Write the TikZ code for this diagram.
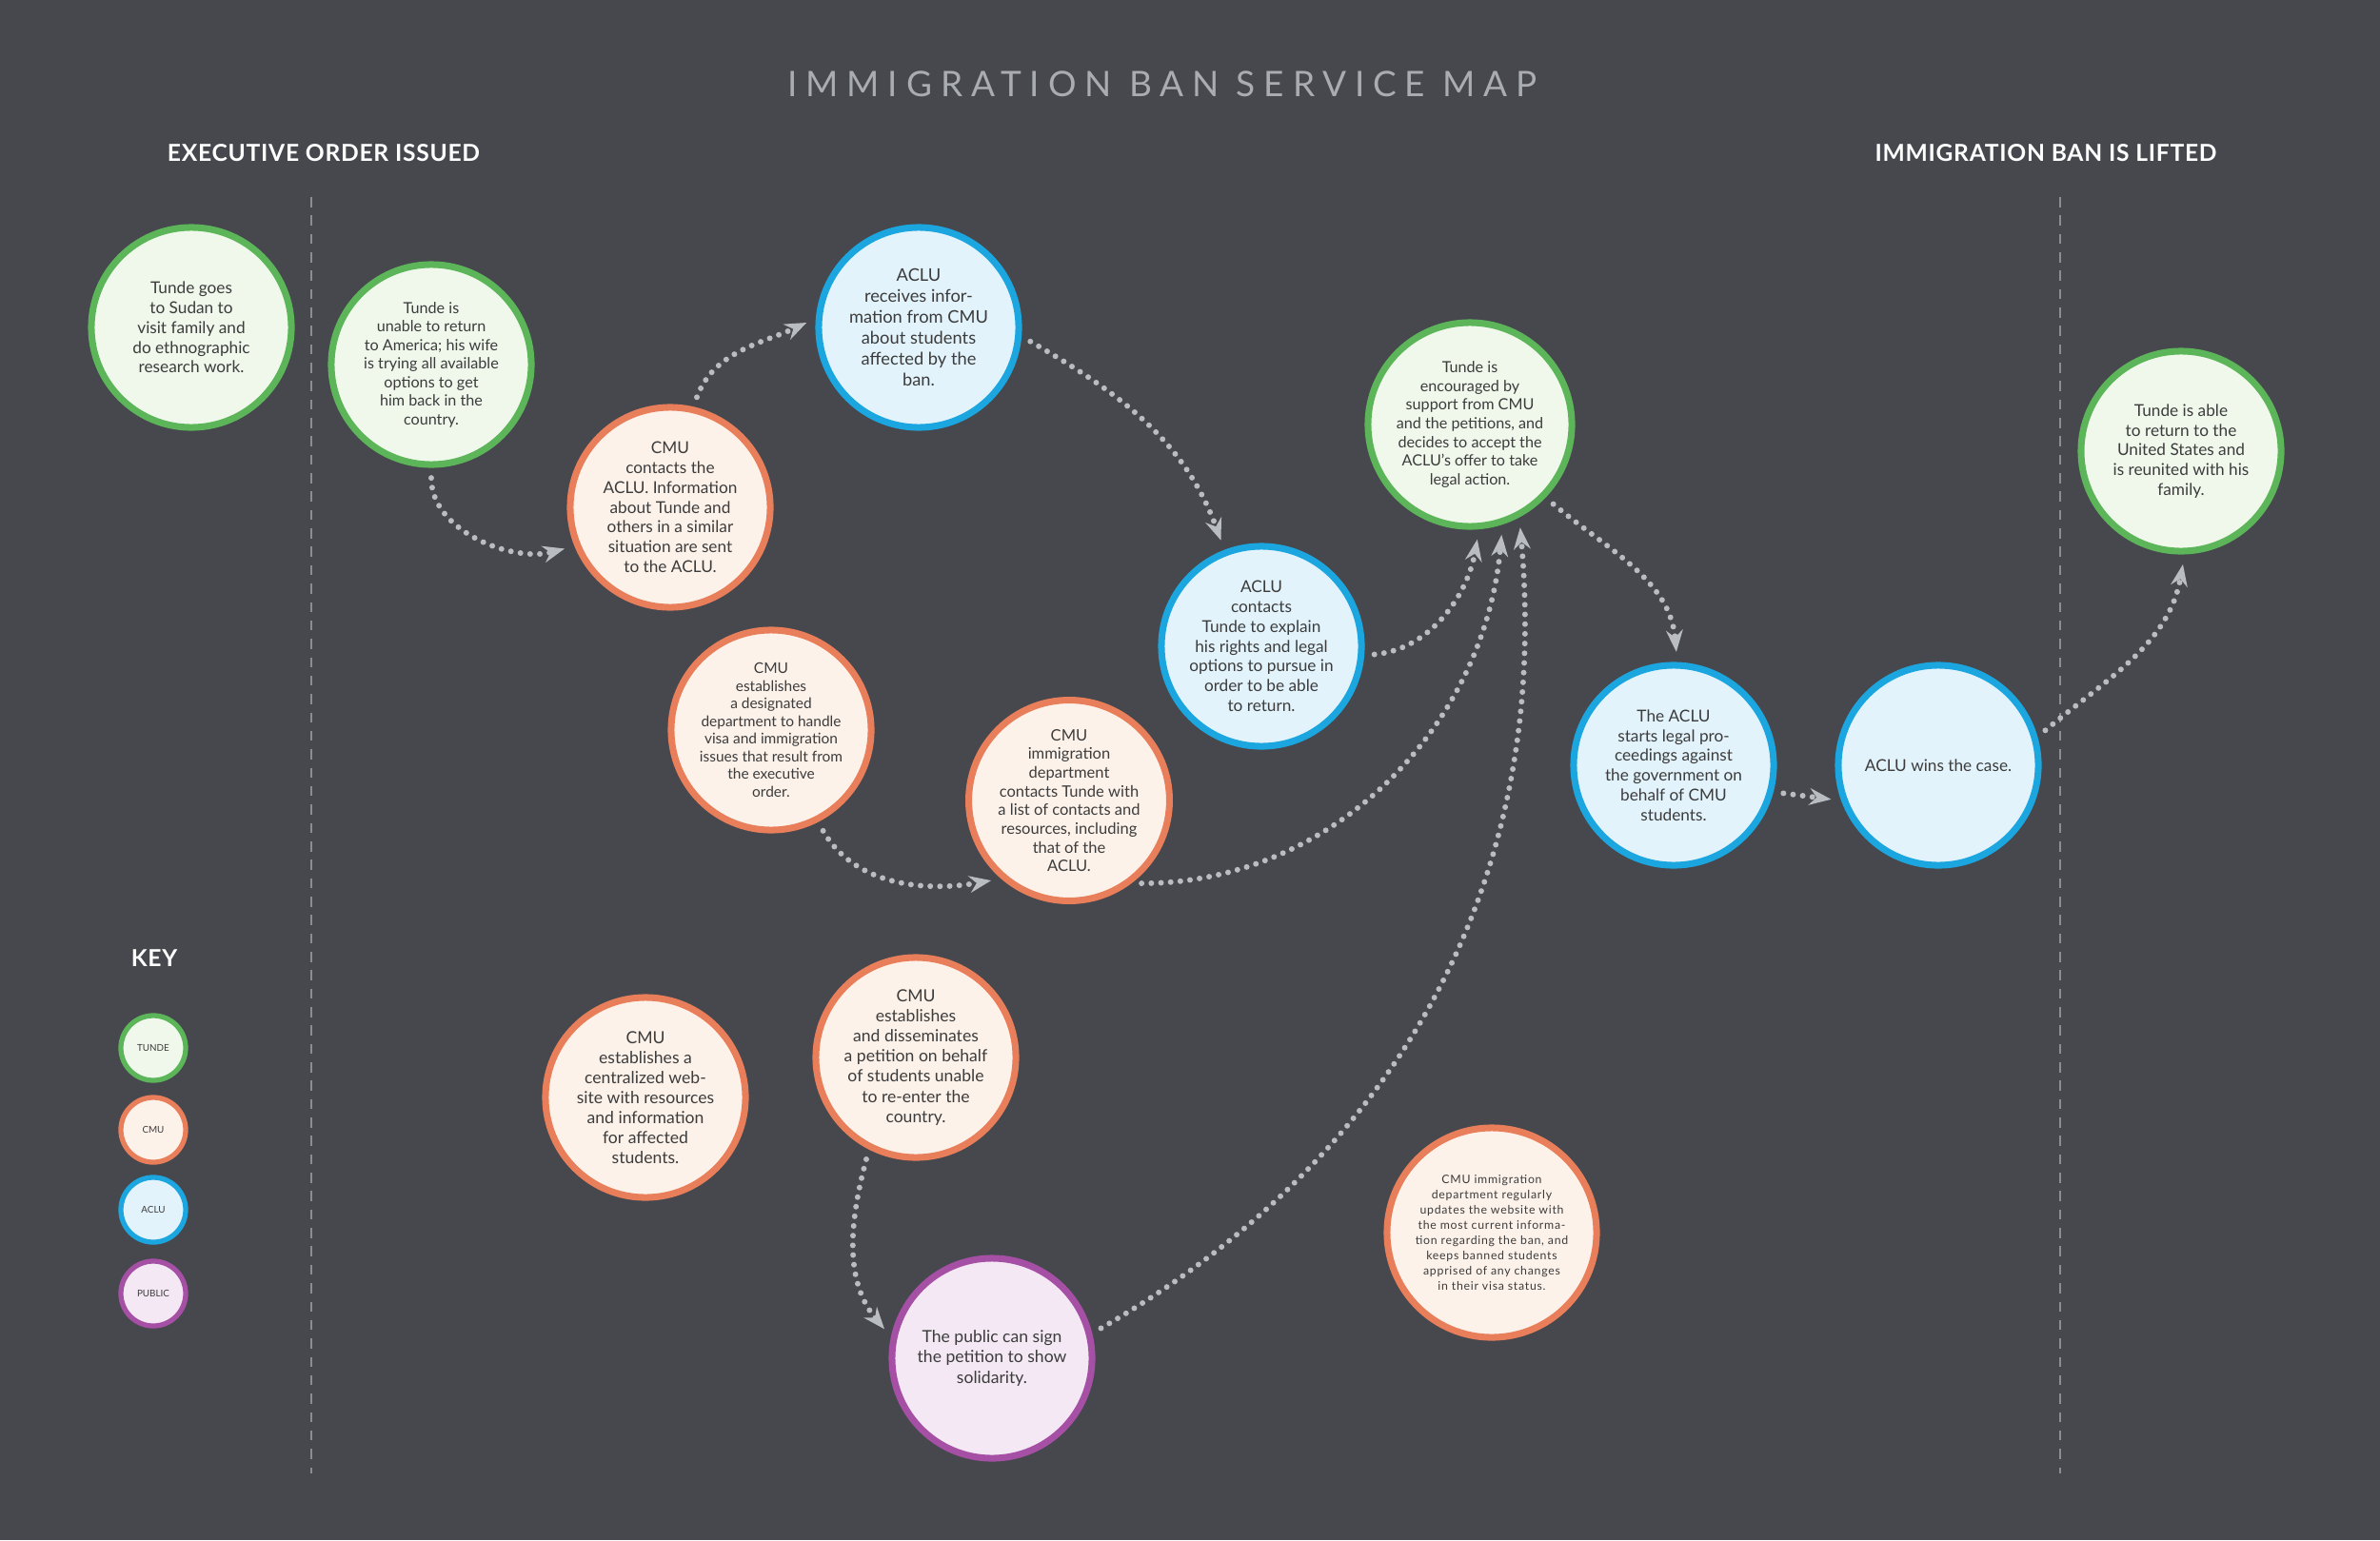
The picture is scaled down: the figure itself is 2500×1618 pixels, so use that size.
\documentclass[tikz,border=0pt]{standalone}
\usepackage{fontspec}
\setmainfont{Lato}
\usetikzlibrary{arrows.meta}
\definecolor{bg}{HTML}{46484D}
\definecolor{ink}{HTML}{3C3C3C}
\definecolor{dots}{HTML}{B9BCC0}
\definecolor{sepline}{HTML}{8B8D91}
\definecolor{titlegrey}{HTML}{A9ACB0}
\definecolor{tundeline}{HTML}{5DB55A}
\definecolor{tundefill}{HTML}{F0F8EC}
\definecolor{cmuline}{HTML}{E87E5A}
\definecolor{cmufill}{HTML}{FDF2EA}
\definecolor{acluline}{HTML}{1CA6E0}
\definecolor{aclufill}{HTML}{E2F3FB}
\definecolor{publine}{HTML}{A54FA5}
\definecolor{pubfill}{HTML}{F3E8F3}
\begin{document}
\begin{tikzpicture}
  [x=0.01cm,y=-0.01cm,
   every circle node/.style={draw,inner sep=0pt,align=center,text=ink},
   tunde/.style={circle,draw=tundeline,fill=tundefill,minimum size=2.1cm,line width=2pt},
   cmu/.style={circle,draw=cmuline,fill=cmufill,minimum size=2.1cm,line width=2pt},
   aclu/.style={circle,draw=acluline,fill=aclufill,minimum size=2.1cm,line width=2pt},
   public/.style={circle,draw=publine,fill=pubfill,minimum size=2.1cm,line width=2pt},
   keydot/.style={minimum size=0.68cm,line width=1.5pt,font=\fontsize{2.8}{3}\selectfont},
   fs/.style 2 args={font=\fontsize{#1}{#2}\selectfont},
   head/.style={text=white,font=\bfseries\fontsize{7}{8}\selectfont\addfontfeature{LetterSpace=3}},
   flow/.style={draw=dots,line width=1.7pt,line cap=round,dash pattern=on 0pt off 2.9pt,
     shorten <=3pt,shorten >=3pt,-{Stealth[length=6.5pt,width=5pt]}},
   sep/.style={draw=sepline,line width=0.6pt,dash pattern=on 3pt off 2.5pt}]
  \fill[bg] (0,0) rectangle (2500,1618);

  % headings
  \node[text=titlegrey,font=\fontsize{10.5}{12}\selectfont\addfontfeature{LetterSpace=24}] (title) at (1221,88) {IMMIGRATION BAN SERVICE MAP};
  \node[head] (start) at (340,161) {EXECUTIVE ORDER ISSUED};
  \node[head] (end) at (2149,161) {IMMIGRATION BAN IS LIFTED};
  \draw[sep] (327,207) -- (327,1548);
  \draw[sep] (2164,207) -- (2164,1548);

  % key
  \node[head] (key) at (162,1007) {KEY};
  \node[tunde,keydot] (k1) at (161,1101) {TUNDE};
  \node[cmu,keydot] (k2) at (161,1187) {CMU};
  \node[aclu,keydot] (k3) at (161,1271) {ACLU};
  \node[public,keydot] (k4) at (161,1359) {PUBLIC};

  % steps
  \node[tunde,fs={4.9}{5.9}] (A1) at (201,344) {Tunde goes\\to Sudan to\\visit family and\\do ethnographic\\research work.};
  \node[tunde,fs={4.6}{5.55}] (A2) at (453,383) {Tunde is\\unable to return\\to America; his wife\\is trying all available\\options to get\\him back in the\\country.};
  \node[cmu,fs={4.9}{5.9}] (A3) at (704,533) {CMU\\contacts the\\ACLU. Information\\about Tunde and\\others in a similar\\situation are sent\\to the ACLU.};
  \node[aclu,fs={5.2}{6.25}] (A4) at (965,344) {ACLU\\receives infor-\\mation from CMU\\about students\\affected by the\\ban.};
  \node[aclu,fs={4.9}{5.9}] (A5) at (1325,679) {ACLU\\contacts\\Tunde to explain\\his rights and legal\\options to pursue in\\order to be able\\to return.};
  \node[tunde,fs={4.6}{5.55},minimum size=2.14cm] (A6) at (1544,446) {Tunde is\\encouraged by\\support from CMU\\and the petitions, and\\decides to accept the\\ACLU's offer to take\\legal action.};
  \node[aclu,fs={4.9}{5.9}] (A7) at (1758,804) {The ACLU\\starts legal pro-\\ceedings against\\the government on\\behalf of CMU\\students.};
  \node[aclu,fs={4.9}{5.9}] (A8) at (2036,804) {ACLU wins the case.};
  \node[tunde,fs={4.9}{5.9}] (A9) at (2291,474) {Tunde is able\\to return to the\\United States and\\is reunited with his\\family.};

  \node[cmu,fs={4.4}{5.25}] (B1) at (810,767) {CMU\\establishes\\a designated\\department to handle\\visa and immigration\\issues that result from\\the executive\\order.};
  \node[cmu,fs={4.7}{5.6}] (B2) at (1123,841) {CMU\\immigration\\department\\contacts Tunde with\\a list of contacts and\\resources, including\\that of the\\ACLU.};
  \node[cmu,fs={5}{6}] (B3) at (678,1153) {CMU\\establishes a\\centralized web-\\site with resources\\and information\\for affected\\students.};
  \node[cmu,fs={5}{6}] (B4) at (962,1111) {CMU\\establishes\\and disseminates\\a petition on behalf\\of students unable\\to re-enter the\\country.};
  \node[public,fs={5}{6}] (B5) at (1042,1427) {The public can sign\\the petition to show\\solidarity.};
  \node[cmu,minimum size=2.2cm,text=ink!80,font=\fontsize{3.5}{4.55}\selectfont\addfontfeature{LetterSpace=6}] (B6) at (1567,1295) {CMU immigration\\department regularly\\updates the website with\\the most current informa-\\tion regarding the ban, and\\keeps banned students\\apprised of any changes\\in their visa status.};

  % flows
  \path[every edge/.style=flow]
    (A2.270) edge[out=-90,in=195] (A3.202)
    (A3.77) edge[out=70,in=205] (A4.175)
    (A4.-5) edge[out=-30,in=110] (A5.111)
    (A5.-5) edge[out=5,in=-100] (A6.-85)
    (B2.-53) edge[out=0,in=-95] (A6.-72)
    (B5.14) edge[out=30,in=-85] (A6.-62)
    (A6.-44) edge[out=-40,in=95] (A7.88)
    (A7.-15) edge (A8.200)
    (A8.16) edge[out=40,in=-100] (A9.-88)
    (B1.-63) edge[out=-60,in=190] (B2.229)
    (B4.-117) edge[out=-105,in=130] (B5.168);
\end{tikzpicture}
\end{document}
